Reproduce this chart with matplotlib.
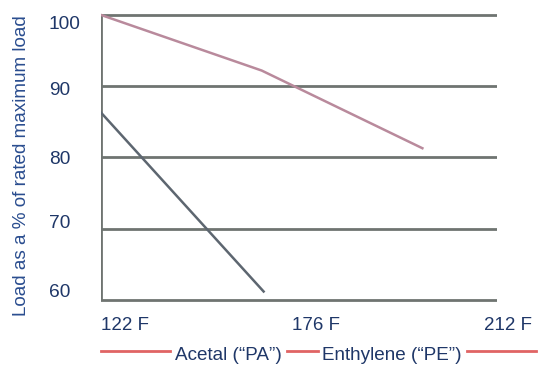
import matplotlib
matplotlib.use("Agg")
import matplotlib.pyplot as plt
import matplotlib.transforms as mtransforms

# values (x = position along the temperature axis, 0 = 122 F)
temp_labels = ["122 F", "176 F", "212 F"]
temp_pos = [0, 1, 2]
load_ticks = [100, 90, 80, 70, 60]

pink_x = [0, 0.84, 1.68]
pink_y = [100, 92.2, 81.3]
gray_x = [0, 0.85]
gray_y = [86.3, 61.2]

legend_names = ["Acetal (\u201cPA\u201d)", "Enthylene (\u201cPE\u201d)"]

plt.rcParams["font.family"] = ["Liberation Sans", "DejaVu Sans"]
navy = "#1f3768"
grid_c = "#6f7471"

fig = plt.figure(figsize=(5.39, 3.65), dpi=100)
ax = fig.add_axes([101 / 539, 0.1682, 396 / 539, 0.8006])
ax.set_xlim(0, 2.07)
ax.set_ylim(59.5, 100.5)

for v in load_ticks:
    ax.axhline(v, color=grid_c, lw=2.0, zorder=1)
ax.vlines(0, 60, 100, color=grid_c, lw=2.0, zorder=1)

ax.plot(pink_x, pink_y, color="#b98a9c", lw=1.8, zorder=3)
ax.plot(gray_x, gray_y, color="#5d6670", lw=1.8, zorder=3)

for s in ax.spines.values():
    s.set_visible(False)

ax.set_yticks(load_ticks)
ax.set_yticklabels([str(v) for v in load_ticks])
ax.tick_params(axis="y", length=0, pad=37.5, labelsize=13.8, labelcolor=navy)
# the scanned labels sit slightly off their lines
shifts = [-8, -2, 0, 7, 10]
for t, dy in zip(ax.get_yticklabels(), shifts):
    t.set_horizontalalignment("left")
    t.set_transform(t.get_transform() + mtransforms.ScaledTranslation(0, dy / 100, fig.dpi_scale_trans))

ax.set_xticks(temp_pos)
ax.set_xticklabels(temp_labels)
ax.tick_params(axis="x", length=0, pad=9.5, labelsize=13.5, labelcolor=navy)
for t in ax.get_xticklabels():
    t.set_horizontalalignment("left")

fig.text(22 / 539, 1 - 166 / 365, "Load as a % of rated maximum load", rotation=90,
         ha="center", va="center", fontsize=13.6, color="#2a4d8f")

# legend row: red dashes with the names between them
ly = 1 - 351 / 365
red = "#e06464"
for x0, x1 in [(101, 170), (287, 318), (467, 536)]:
    fig.add_artist(plt.Line2D([x0 / 539, x1 / 539], [ly, ly], color=red, lw=2.0))
fig.text(175 / 539, 1 - 355 / 365, legend_names[0], ha="left", va="center",
         fontsize=13.6, color=navy)
fig.text(322 / 539, 1 - 355 / 365, legend_names[1], ha="left", va="center",
         fontsize=13.6, color=navy)

fig.savefig("out.png", dpi=100)
